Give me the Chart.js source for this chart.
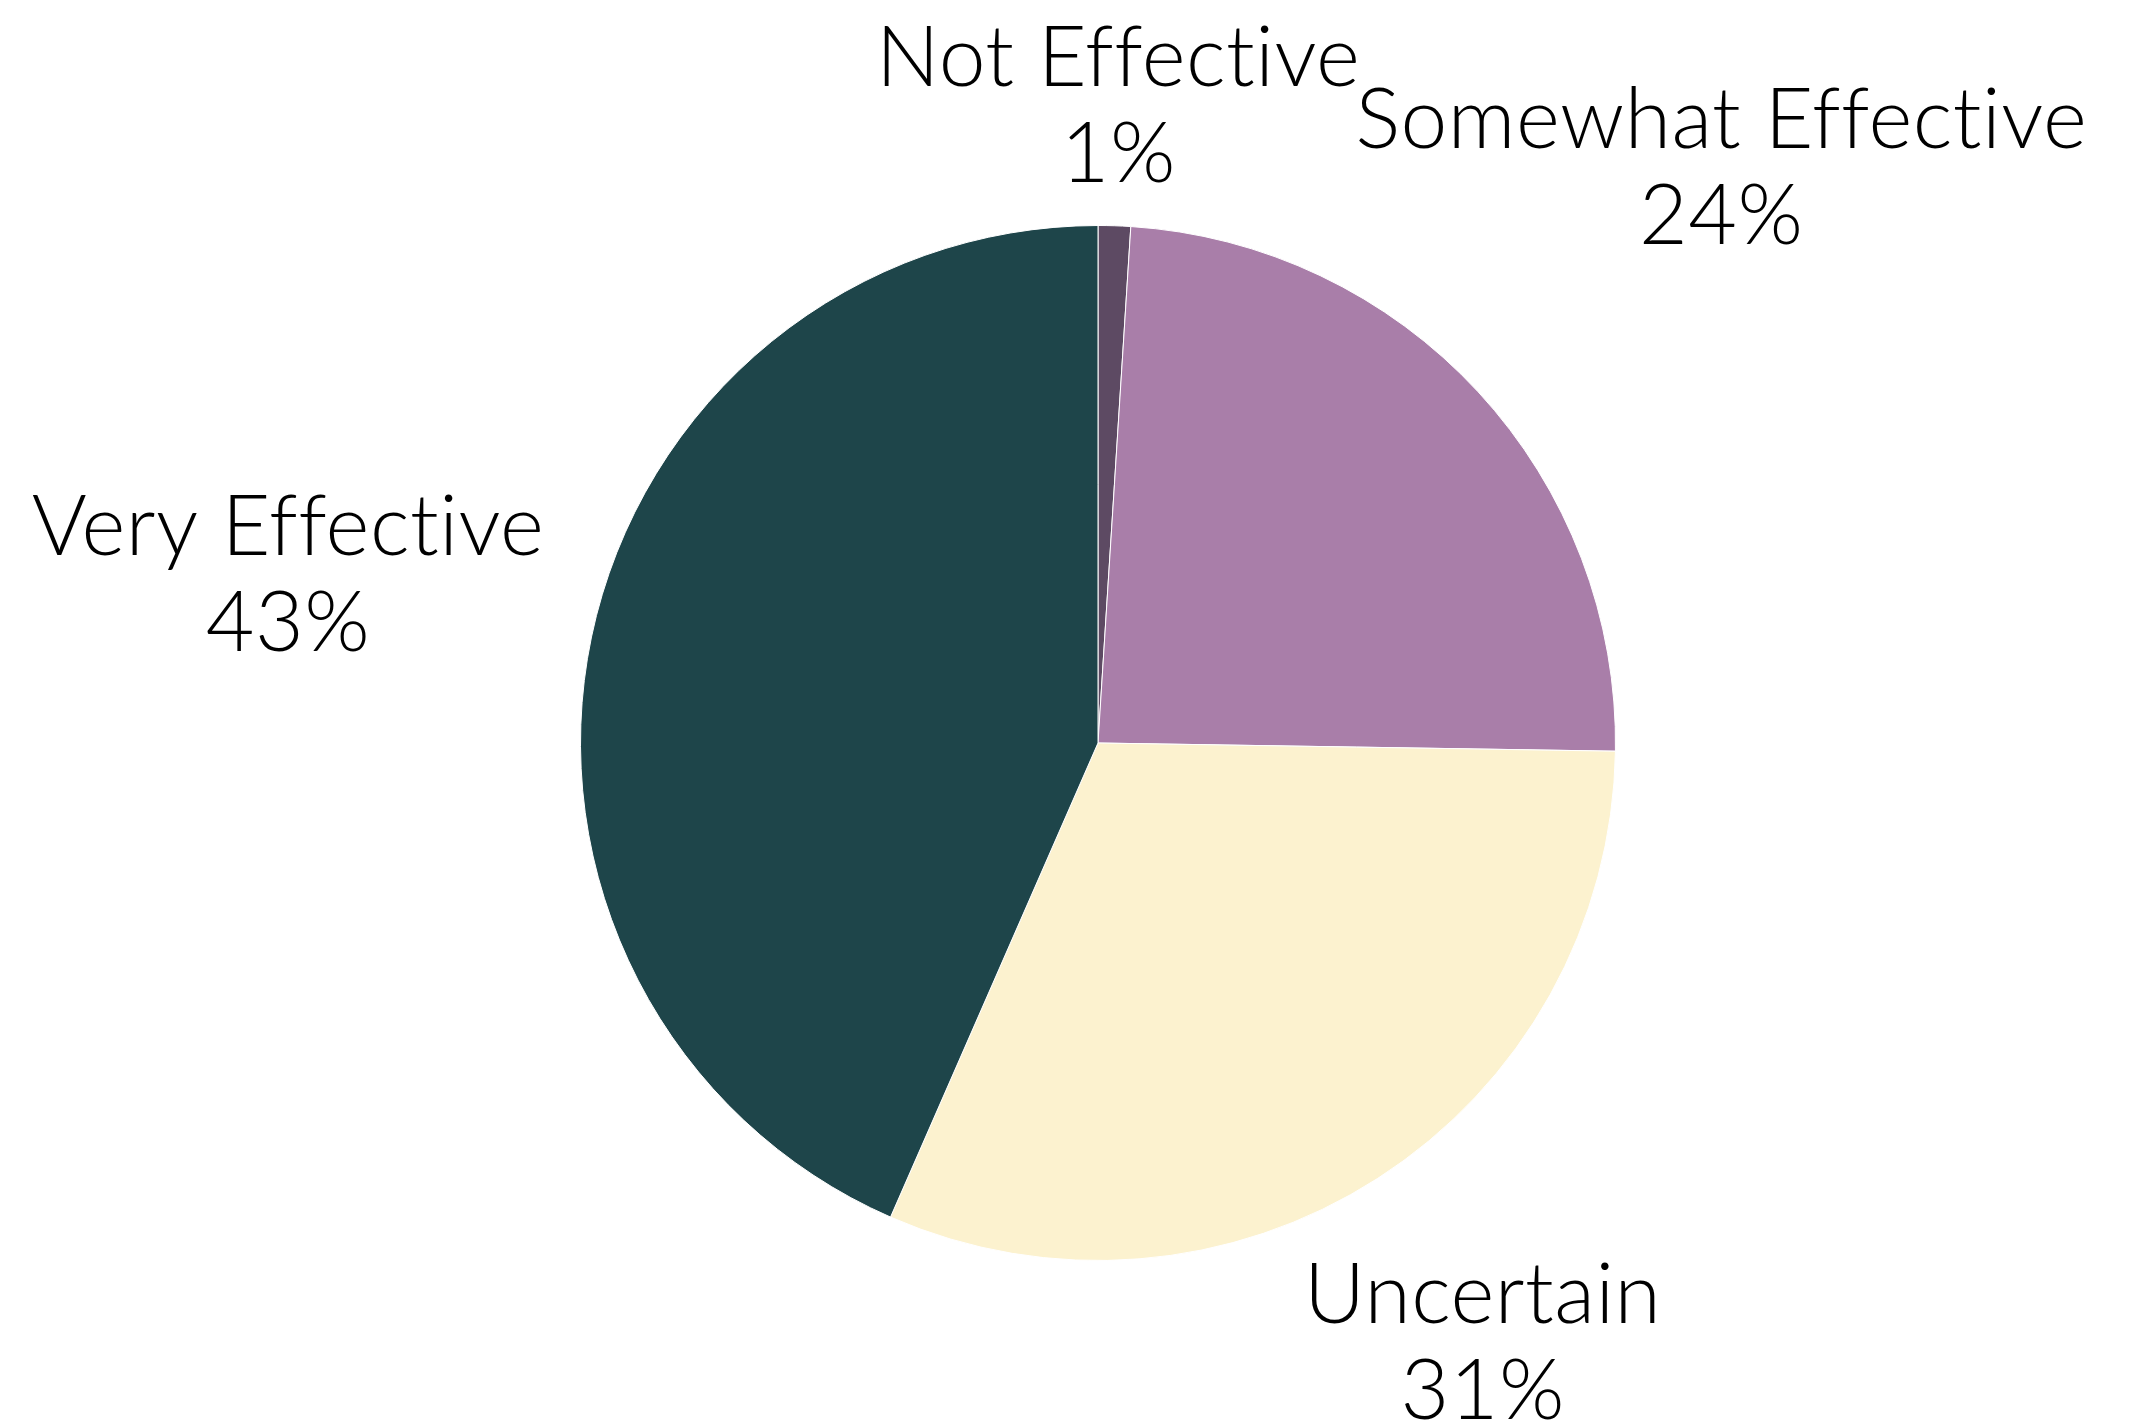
<!DOCTYPE html>
<html>
<head>
<meta charset="utf-8">
<script src="https://cdn.jsdelivr.net/npm/chart.js@4"></script>
<style>
html,body{margin:0;padding:0;background:#fff;}
#wrap{width:2142px;height:1427px;}
</style>
</head>
<body>
<div id="wrap"><canvas id="c" width="2142" height="1427"></canvas></div>
<script>
const categories = ["Not Effective", "Somewhat Effective", "Uncertain", "Very Effective"];
const values = [1, 24, 31, 43];
const percentLabels = ["1%", "24%", "31%", "43%"];
const sliceColors = ["#5d4a63", "#a97ea9", "#fcf2cf", "#1e454a"];

const FONT_SIZE = 84;
const FONT = "300 " + FONT_SIZE + "px Lato, 'Open Sans', sans-serif";
const LINE_H = 96;
const CAP_H = 58;
const GAP = 43;

const outsideLabels = {
  id: 'outsideLabels',
  afterDatasetsDraw(chart) {
    const ctx = chart.ctx;
    const meta = chart.getDatasetMeta(0);
    ctx.save();
    ctx.font = FONT;
    try { ctx.letterSpacing = "0.5px"; } catch (e) {}
    ctx.fillStyle = "#000";
    ctx.textAlign = "center";
    ctx.textBaseline = "alphabetic";
    meta.data.forEach((arc, i) => {
      const p = arc.getProps(['x','y','startAngle','endAngle','outerRadius'], true);
      const mid = (p.startAngle + p.endAngle) / 2;
      const lines = [categories[i], percentLabels[i]];
      const w = Math.max(...lines.map(t => ctx.measureText(t).width));
      const h = (lines.length - 1) * LINE_H + CAP_H;
      const ux = Math.cos(mid), uy = Math.sin(mid);
      let d = p.outerRadius;
      for (; d < p.outerRadius + 1500; d += 1) {
        const cx = p.x + ux * d, cy = p.y + uy * d;
        const nx = Math.min(Math.max(p.x, cx - w/2), cx + w/2);
        const ny = Math.min(Math.max(p.y, cy - h/2), cy + h/2);
        const dist = Math.hypot(nx - p.x, ny - p.y);
        if (dist >= p.outerRadius + GAP) break;
      }
      const cx = p.x + ux * d, cy = p.y + uy * d;
      let y = cy - h/2 + CAP_H;
      lines.forEach(t => { ctx.fillText(t, cx, y); y += LINE_H; });
    });
    ctx.restore();
  }
};

new Chart(document.getElementById('c'), {
  type: 'pie',
  data: {
    labels: categories,
    datasets: [{
      data: values,
      backgroundColor: sliceColors,
      borderColor: "#ffffff",
      borderWidth: 1
    }]
  },
  options: {
    responsive: false,
    devicePixelRatio: 1,
    animation: false,
    layout: { padding: { left: 580, right: 526, top: 225, bottom: 166 } },
    plugins: { legend: { display: false }, tooltip: { enabled: false } }
  },
  plugins: [outsideLabels]
});
</script>
</body>
</html>
